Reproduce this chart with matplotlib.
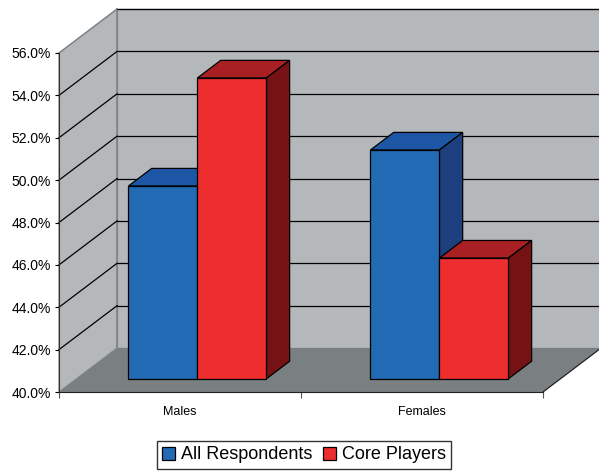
import matplotlib
matplotlib.use("Agg")
import matplotlib.pyplot as plt
from matplotlib.patches import Polygon, Patch

# Daten
categories = ["Males", "Females"]
series_names = ["All Respondents", "Core Players"]
all_respondents = [49.1, 50.8]
core_players = [54.2, 45.7]
y_ticks = [40, 42, 44, 46, 48, 50, 52, 54, 56]

# Farben (Front, Deckel, Seite)
BLUE = ("#236AB5", "#1E56A6", "#1E3F7E")
RED = ("#EE2E2E", "#A81F24", "#741214")
WALL = "#B5B8BB"
FLOOR = "#7A8081"

# 3D-Geometrie in Datenkoordinaten
DX, DY = 0.24, 2.075        # volle Tiefe der Wand
BAR_W = 0.285
FRONT, BACK = 0.3, 0.7      # Balken liegen zwischen 30% und 70% der Tiefe
Y0, Y1 = y_ticks[0], y_ticks[-1]

plt.rcParams["font.family"] = ["Liberation Sans", "DejaVu Sans"]

fig = plt.figure(figsize=(5.99, 4.72), dpi=100)
ax = fig.add_axes([59 / 599, 80 / 472, 484 / 599, 339 / 472])
ax.set_xlim(-0.5, len(categories) - 0.5)
ax.set_ylim(Y0, Y1)
ax.patch.set_visible(False)

x_lo, x_hi = -0.5, len(categories) - 0.5

# Waende und Boden
back = Polygon([(x_lo + DX, Y0 + DY), (x_hi + DX, Y0 + DY), (x_hi + DX, Y1 + DY), (x_lo + DX, Y1 + DY)],
               facecolor=WALL, edgecolor="#8A8D90", lw=1, zorder=0.5, clip_on=False)
side = Polygon([(x_lo, Y0), (x_lo + DX, Y0 + DY), (x_lo + DX, Y1 + DY), (x_lo, Y1)],
               facecolor=WALL, edgecolor="#8A8D90", lw=1, zorder=0.5, clip_on=False)
floor = Polygon([(x_lo, Y0), (x_hi, Y0), (x_hi + DX, Y0 + DY), (x_lo + DX, Y0 + DY)],
                facecolor=FLOOR, edgecolor="none", zorder=0.6, clip_on=False)
for p in (back, side, floor):
    ax.add_patch(p)
ax.plot([x_lo + DX, x_lo + DX], [Y0 + DY, Y1 + DY], color="#80868A", lw=1.2, zorder=0.7, clip_on=False)
ax.plot([x_hi, x_hi + DX], [Y0, Y0 + DY], color="#222222", lw=0.9, zorder=0.7, clip_on=False)

# Gitternetz
for t in y_ticks[1:]:
    ax.plot([x_lo + DX, x_hi + DX], [t + DY, t + DY], color="black", lw=0.9, zorder=1, clip_on=False)
    c = "black" if t < Y1 else "#80868A"
    ax.plot([x_lo, x_lo + DX], [t, t + DY], color=c, lw=0.9, zorder=1, clip_on=False)


def draw_bar(xc, val, cols, z):
    ox, oy = FRONT * DX, FRONT * DY
    bx, by = (BACK - FRONT) * DX, (BACK - FRONT) * DY
    x0 = xc - BAR_W / 2 + ox
    x1 = x0 + BAR_W
    bot, top = Y0 + oy, val + oy
    ax.add_patch(Polygon([(x0, top), (x1, top), (x1 + bx, top + by), (x0 + bx, top + by)],
                         facecolor=cols[1], edgecolor="black", lw=0.9, zorder=z, clip_on=False))
    ax.add_patch(Polygon([(x1, bot), (x1, top), (x1 + bx, top + by), (x1 + bx, bot + by)],
                         facecolor=cols[2], edgecolor="black", lw=0.9, zorder=z, clip_on=False))
    ax.bar(x0, val - Y0, width=BAR_W, bottom=bot, align="edge", color=cols[0],
           edgecolor="black", lw=0.9, zorder=z + 0.05, clip_on=False)


for i in range(len(categories)):
    draw_bar(i - BAR_W / 2, all_respondents[i], BLUE, 2.0)
    draw_bar(i + BAR_W / 2, core_players[i], RED, 2.2)

# Achsen
ax.set_yticks(y_ticks)
ax.set_yticklabels([f"{t:.1f}%" for t in y_ticks], fontsize=10)
ax.tick_params(axis="y", direction="out", length=3, width=0.8, pad=3)
ax.set_xticks(range(len(categories)))
ax.set_xticklabels(categories, fontsize=9)
ax.set_xticks([x_lo + k for k in range(len(categories) + 1)], minor=True)
ax.tick_params(axis="x", which="major", length=0, pad=10)
ax.tick_params(axis="x", which="minor", direction="out", length=4, width=0.8, color="#555555")
for s in ("top", "right"):
    ax.spines[s].set_visible(False)
ax.spines["left"].set_color("#333333")
ax.spines["bottom"].set_color("#222222")

# Legende
handles = [Patch(facecolor=BLUE[0], edgecolor="black", lw=0.9),
           Patch(facecolor=RED[0], edgecolor="black", lw=0.9)]
fig.legend(handles, series_names, loc="upper center", bbox_to_anchor=(304 / 599, 1 - 441 / 472),
           ncol=2, fontsize=13, frameon=True, fancybox=False, edgecolor="black",
           handlelength=0.72, handleheight=0.72, handletextpad=0.35, columnspacing=0.55,
           borderpad=0.3, borderaxespad=0)

plt.savefig("out.png", dpi=100)
